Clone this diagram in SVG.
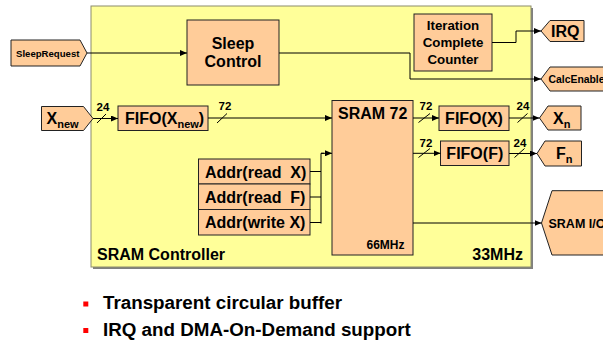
<svg xmlns="http://www.w3.org/2000/svg" width="603" height="343" viewBox="0 0 603 343">
<defs>
<style>
.b{fill:#FFCC99;stroke:#222;stroke-width:1}
.t{font-family:"Liberation Sans",Arial,sans-serif;font-weight:bold;fill:#000}
.m{font-size:16px}
.s{font-size:11.5px}
.c{stroke:#000;stroke-width:1;fill:none}
.p{white-space:pre}
</style>
<marker id="a" markerWidth="7" markerHeight="6" refX="7" refY="3" orient="auto" markerUnits="userSpaceOnUse">
<path d="M0,0 L7,3 L0,6 Z" fill="#000"/>
</marker>
</defs>
<rect width="603" height="343" fill="#fff"/>
<g id="controller">
<rect x="93" y="8" width="440" height="261" fill="#808080"/>
<rect x="91" y="6" width="440" height="261" fill="#FFFF99" stroke="#8c8c6c" stroke-width="1"/>
<text class="t m" x="97" y="260">SRAM Controller</text>
<text class="t m" x="523" y="260" text-anchor="end">33MHz</text>
</g>
<g id="sleeprequest">
<polygon class="b" points="11,40 80,40 87,53 80,66 11,66"/>
<text class="t" font-size="9.6" x="16" y="56.5">SleepRequest</text>
</g>
<g id="sleepcontrol">
<rect class="b" x="187" y="20" width="92" height="65"/>
<text class="t m" x="233" y="49" text-anchor="middle">Sleep</text>
<text class="t m" x="233" y="67" text-anchor="middle">Control</text>
</g>
<g id="counter">
<rect class="b" x="414" y="14" width="78" height="57"/>
<text class="t" font-size="13.3" x="453" y="30" text-anchor="middle">Iteration</text>
<text class="t" font-size="13.3" x="453" y="47" text-anchor="middle">Complete</text>
<text class="t" font-size="13.3" x="453" y="64" text-anchor="middle">Counter</text>
</g>
<g id="irq">
<polygon class="b" points="541,31 550,20.5 584,20.5 584,41.5 550,41.5"/>
<text class="t m" x="551" y="36.5">IRQ</text>
</g>
<g id="calcenable">
<polygon class="b" points="541,79 550,67 620,67 620,91 550,91"/>
<text class="t" font-size="10.4" x="548.5" y="82.5">CalcEnable</text>
</g>
<g id="xnew">
<polygon class="b" points="41.5,106.5 83.5,106.5 93,118.5 83.5,130.5 41.5,130.5"/>
<text class="t m" x="46.5" y="123.5">X<tspan font-size="11" dy="4.5">new</tspan></text>
</g>
<g id="fifoxnew">
<rect class="b" x="118" y="106" width="90" height="24.5"/>
<text class="t m" x="125" y="123.5">FIFO(X<tspan font-size="11" dy="4.5">new</tspan><tspan dy="-4.5">)</tspan></text>
</g>
<g id="sram">
<rect class="b" x="332" y="100.5" width="81" height="154.5"/>
<text class="t m" x="338" y="119">SRAM 72</text>
<text class="t" font-size="12" x="366.5" y="248.5">66MHz</text>
</g>
<g id="fifox">
<rect class="b" x="439" y="106" width="70" height="24.5"/>
<text class="t m" x="474" y="123.5" text-anchor="middle">FIFO(X)</text>
</g>
<g id="fifof">
<rect class="b" x="440.5" y="141" width="68.5" height="24.5"/>
<text class="t m" x="474.8" y="159" text-anchor="middle">FIFO(F)</text>
</g>
<g id="xn">
<polygon class="b" points="539.5,118 548,106 581,106 581,130 548,130"/>
<text class="t m" x="553" y="123.5">X<tspan font-size="11" dy="4.5">n</tspan></text>
</g>
<g id="fn">
<polygon class="b" points="537,153.5 545,141 581.5,141 581.5,166 545,166"/>
<text class="t m" x="556" y="158.5">F<tspan font-size="11" dy="4.5">n</tspan></text>
</g>
<g id="sramio">
<polygon class="b" points="541.5,223 552,190.7 620,190.7 630,223 620,255 552,255"/>
<text class="t" font-size="12.5" x="548.5" y="227.5">SRAM I/O</text>
</g>
<g id="addrreadx">
<rect class="b" x="198.5" y="159" width="111.5" height="25"/>
<text class="t m p" x="205" y="178">Addr(read  X)</text>
</g>
<g id="addrreadf">
<rect class="b" x="198.5" y="184" width="111.5" height="25.5"/>
<text class="t m p" x="205" y="203.3">Addr(read  F)</text>
</g>
<g id="addrwritex">
<rect class="b" x="198.5" y="209.5" width="111.5" height="25.5"/>
<text class="t m" x="205" y="228.3">Addr(write X)</text>
</g>
<g id="connectors">
<path class="c" d="M87,53 H187" marker-end="url(#a)"/>
<path class="c" d="M279,53 H410 V79 H541" marker-end="url(#a)"/>
<path class="c" d="M492,42.5 H516 V31 H541" marker-end="url(#a)"/>
<path class="c" d="M93,118.5 H118" marker-end="url(#a)"/>
<path class="c" d="M208,118 H332" marker-end="url(#a)"/>
<path class="c" d="M413,118 H439" marker-end="url(#a)"/>
<path class="c" d="M509,118 H539.5" marker-end="url(#a)"/>
<path class="c" d="M413,153.3 H440.5" marker-end="url(#a)"/>
<path class="c" d="M509,153.5 H537" marker-end="url(#a)"/>
<path class="c" d="M310,171.5 H321 M310,197 H321 M310,222.5 H321"/>
<path class="c" stroke-width="2" d="M321,223.5 V153.3 H324"/>
<path class="c" d="M321,153.3 H332" marker-end="url(#a)"/>
<path class="c" d="M413,223 H541.5" marker-end="url(#a)"/>
<path class="c" d="M97,123 L106,114 M217,123 L227,113.5 M418.5,122.5 L430,113.5 M418.5,157.5 L430,148.5 M517.5,122.5 L527.5,113.5 M514.5,157.5 L524.5,148.5"/>
<text class="t s" x="103" y="110.5" text-anchor="middle">24</text>
<text class="t s" x="225" y="110" text-anchor="middle">72</text>
<text class="t s" x="426" y="110" text-anchor="middle">72</text>
<text class="t s" x="426" y="146.5" text-anchor="middle">72</text>
<text class="t s" x="523" y="110" text-anchor="middle">24</text>
<text class="t s" x="520" y="146.5" text-anchor="middle">24</text>
</g>
<g id="bullets">
<rect x="83.3" y="301.5" width="5" height="5" fill="#FF0000"/>
<rect x="83.3" y="328" width="5" height="5" fill="#FF0000"/>
<text class="t" font-size="18.8" x="103" y="308.5">Transparent circular buffer</text>
<text class="t" font-size="18.8" x="103" y="335.5">IRQ and DMA-On-Demand support</text>
</g>
</svg>
